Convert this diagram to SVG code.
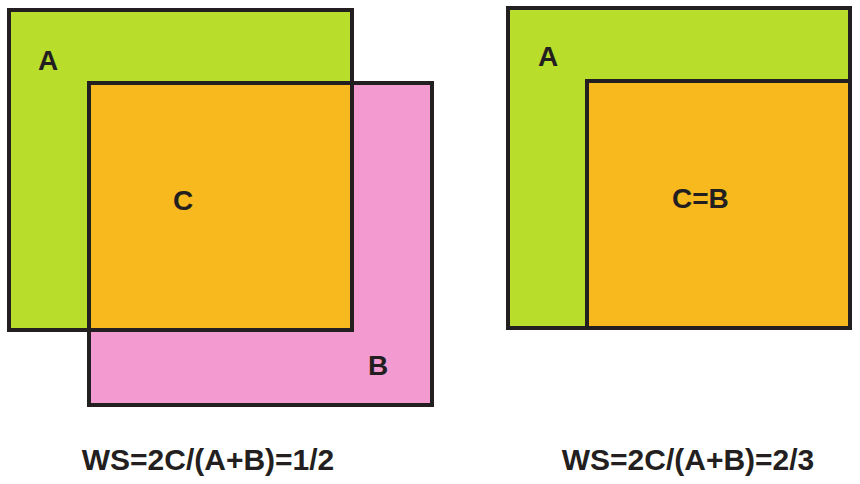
<svg xmlns="http://www.w3.org/2000/svg" width="860" height="484" viewBox="0 0 860 484">
<style>
.b{stroke:#231f20;stroke-width:4}
.t{font-family:"Liberation Sans",Arial,sans-serif;font-weight:bold;fill:#231f20}
.l{font-size:28px}
.f{font-size:30px;text-anchor:middle}
</style>
<rect width="860" height="484" fill="#fff"/>
<g id="left">
<g id="A1"><rect class="b" x="9" y="10" width="343" height="320" fill="#b8dd2b"/></g>
<g id="B1"><rect class="b" x="89" y="83" width="343" height="322" fill="#f39ad0"/></g>
<g id="C1"><rect x="89" y="83" width="263" height="247" fill="#f8b91e" stroke="none"/>
<path class="b" fill="none" d="M89 83V330H352V83Z"/></g>
<text class="t l" x="38" y="70">A</text>
<text class="t l" x="173" y="210">C</text>
<text class="t l" x="368" y="375">B</text>
<text class="t f" x="208" y="470">WS=2C/(A+B)=1/2</text>
</g>
<g id="right">
<g id="A2"><rect class="b" x="508" y="8" width="342" height="320" fill="#b8dd2b"/></g>
<g id="B2"><rect class="b" x="587" y="81" width="263" height="247" fill="#f8b91e"/></g>
<text class="t l" x="538" y="66">A</text>
<text class="t l" x="672" y="208">C=B</text>
<text class="t f" x="688" y="470">WS=2C/(A+B)=2/3</text>
</g>
<g id="connectors"/>
</svg>
